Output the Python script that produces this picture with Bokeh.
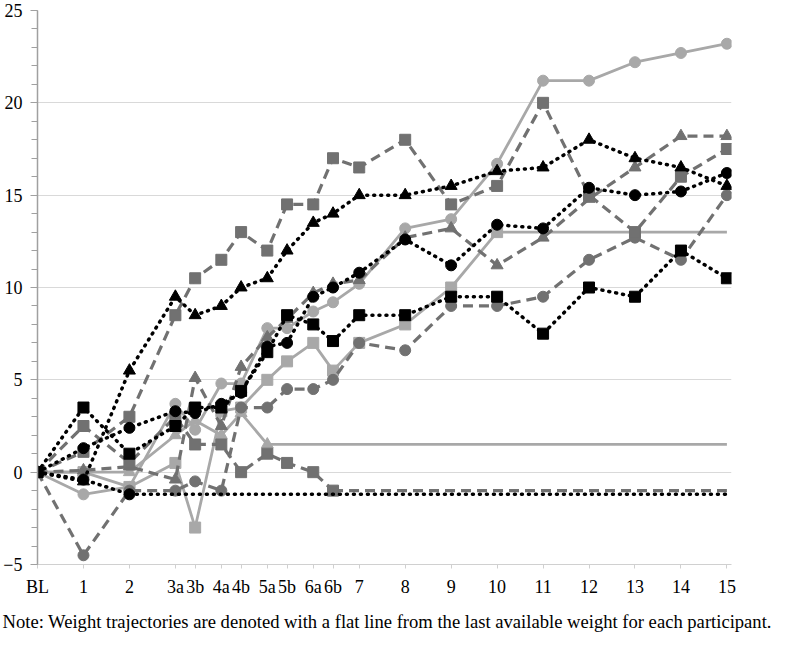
import math
from bokeh.plotting import figure
from bokeh.models import Range1d, FixedTicker, SingleIntervalTicker, Title
from bokeh.embed import file_html
from bokeh.resources import INLINE

# ---- data ----
labels = ["BL", "1", "2", "3a", "3b", "4a", "4b", "5a", "5b", "6a", "6b",
          "7", "8", "9", "10", "11", "12", "13", "14", "15"]
weeks = [0, 1, 2, 3, 3.43, 4, 4.43, 5, 5.43, 6, 6.43,
         7, 8, 9, 10, 11, 12, 13, 14, 15]

N = None
# black, dotted
p_black_tri = [0, -0.5, 5.5, 9.5, 8.5, 9.0, 10.0, 10.5, 12.0, 13.5, 14.0, 15.0, 15.0, 15.5, 16.3, 16.5, 18.0, 17.0, 16.5, 15.5]
p_black_sq = [0, 3.5, 1.0, 2.5, 3.5, 3.5, 4.4, 6.5, 8.5, 8.0, 7.1, 8.5, 8.5, 9.5, 9.5, 7.5, 10.0, 9.5, 12.0, 10.5]
p_black_circ = [0, 1.3, 2.4, 3.3, 3.2, 3.7, 4.3, 6.8, 7.0, 9.5, 10.0, 10.8, 12.6, 11.2, 13.4, 13.2, 15.4, 15.0, 15.2, 16.2]
p_black_circ2 = [0, -0.4, -1.2, N, N, N, N, N, N, N, N, N, N, N, N, N, N, N, N, N]
# dark grey, dashed
p_dgrey_sq = [0, 1.1, 3.0, 8.5, 10.5, 11.5, 13.0, 12.0, 14.5, 14.5, 17.0, 16.5, 18.0, 14.5, 15.5, 20.0, 15.0, 13.0, 16.0, 17.5]
p_dgrey_sq2 = [0, 2.5, 0.5, 3.0, 1.5, 1.5, 0.0, 1.0, 0.5, 0.0, -1.0, N, N, N, N, N, N, N, N, N]
p_dgrey_circ = [0, -4.5, -1.0, -1.0, -0.5, -1.0, 3.5, 3.5, 4.5, 4.5, 5.0, 7.0, 6.6, 9.0, 9.0, 9.5, 11.5, 12.7, 11.5, 15.0]
p_dgrey_tri = [0, 0.1, 0.3, -0.4, 5.1, 2.5, 5.7, 7.3, 8.3, 9.7, 10.2, 10.4, 12.7, 13.2, 11.2, 12.7, 14.8, 16.5, 18.2, 18.2]
# light grey, solid
p_lgrey_circ = [0, -1.2, -0.8, 3.7, 2.3, 4.8, 4.8, 7.8, 7.8, 8.7, 9.2, 10.2, 13.2, 13.7, 16.7, 21.2, 21.2, 22.2, 22.7, 23.2]
p_lgrey_sq = [0, 0.0, -0.8, 0.5, -3.0, 3.3, 3.5, 5.0, 6.0, 7.0, 5.5, 7.0, 8.0, 10.0, 13.0, N, N, N, N, N]
p_lgrey_tri = [0, 0.0, 0.0, 2.0, 2.8, 2.0, 3.2, 1.5, N, N, N, N, N, N, N, N, N, N, N, N]

note = ("Note: Weight trajectories are denoted with a flat line from the last "
        "available weight for each participant.")

BLACK = "#000000"
DGREY = "#717171"
LGREY = "#a8a8a8"
FONT = "Liberation Serif"

styles = {
    "black": dict(color=BLACK, dash="1 6", width=3.5, cap="round"),
    "dgrey": dict(color=DGREY, dash="10 6", width=3.2, cap="butt"),
    "lgrey": dict(color=LGREY, dash="solid", width=2.8, cap="butt"),
}

series = [
    (p_lgrey_tri, "lgrey", "triangle"),
    (p_lgrey_sq, "lgrey", "square"),
    (p_lgrey_circ, "lgrey", "circle"),
    (p_dgrey_circ, "dgrey", "circle"),
    (p_dgrey_tri, "dgrey", "triangle"),
    (p_dgrey_sq2, "dgrey", "square"),
    (p_dgrey_sq, "dgrey", "square"),
    (p_black_circ2, "black", "circle"),
    (p_black_circ, "black", "circle"),
    (p_black_sq, "black", "square"),
    (p_black_tri, "black", "triangle"),
]

p = figure(width=784, height=641, output_backend="svg", toolbar_location=None,
           x_range=Range1d(0, 15.1), y_range=Range1d(-5, 25),
           min_border_left=36, min_border_right=53, min_border_top=10,
           min_border_bottom=77)
p.outline_line_color = None
p.background_fill_color = "white"
p.border_fill_color = "white"

p.xgrid.grid_line_color = None
p.ygrid.grid_line_color = "#d9d9d9"
p.ygrid.grid_line_width = 1

p.yaxis.ticker = SingleIntervalTicker(interval=5, num_minor_ticks=5)
p.yaxis.axis_line_color = "#a0a0a0"
p.yaxis.axis_line_width = 1.5
p.yaxis.major_tick_line_color = "#a0a0a0"
p.yaxis.minor_tick_line_color = "#a0a0a0"
p.yaxis.major_tick_out = 7
p.yaxis.major_tick_in = 0
p.yaxis.minor_tick_out = 6
p.yaxis.minor_tick_in = 0
p.yaxis.major_label_standoff = 8

p.xaxis.ticker = FixedTicker(ticks=weeks)
p.xaxis.major_label_overrides = {w: lab for w, lab in zip(weeks, labels)}
p.xaxis.axis_line_color = "#d0d0d0"
p.xaxis.major_tick_line_color = "#d0d0d0"
p.xaxis.major_tick_out = 4
p.xaxis.major_tick_in = 0
p.xaxis.minor_tick_line_color = None
p.xaxis.major_label_standoff = 8

for ax in (p.xaxis, p.yaxis):
    ax.major_label_text_font = FONT
    ax.major_label_text_font_size = "18px"
    ax.major_label_text_color = "#000000"

for vals, key, marker in series:
    st = styles[key]
    xs = [w for w, v in zip(weeks, vals) if v is not None]
    ys = [v for v in vals if v is not None]
    p.line(xs, ys, line_color=st["color"], line_width=st["width"],
           line_dash=st["dash"], line_cap=st["cap"], line_join="round")
    if xs[-1] < weeks[-1]:
        p.line([xs[-1], weeks[-1]], [ys[-1], ys[-1]], line_color=st["color"],
               line_width=st["width"], line_dash=st["dash"], line_cap=st["cap"])
    size = {"circle": 11, "square": 11, "triangle": 12}[marker]
    p.scatter(xs, ys, marker=marker, size=size, fill_color=st["color"],
              line_color=st["color"], line_width=1)

t = Title(text=note, align="left", text_font=FONT, text_font_size="18.6px",
          text_font_style="normal", text_color="#000000", offset=-35,
          standoff=18)
p.add_layout(t, "below")

open("out.html", "w").write(file_html(p, INLINE))
